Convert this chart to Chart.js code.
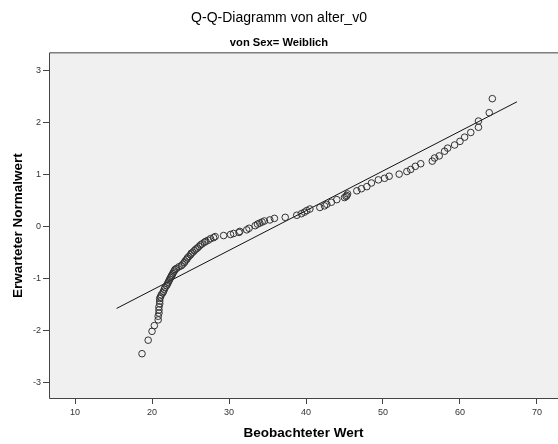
<!DOCTYPE html>
<html>
<head>
<meta charset="utf-8">
<script src="https://cdn.jsdelivr.net/npm/chart.js@4.4.1/dist/chart.umd.min.js"></script>
<style>
    body { margin: 0; background: #fff; }
    canvas { display: block; }
</style>
</head>
<body>
<canvas id="qqChart" width="558" height="444"></canvas>

<script>
// Beobachtete Werte (Alter) und erwartete Normalwerte, Frauen
const beobachtet = [
    18.7, 19.5, 20.0, 20.3, 20.8, 20.8, 20.9, 20.9, 20.9, 21.0,
    21.0, 21.0, 21.1, 21.2, 21.4, 21.5, 21.6, 21.7, 21.9, 22.0,
    22.1, 22.2, 22.3, 22.4, 22.5, 22.6, 22.7, 22.8, 22.9, 23.0,
    23.2, 23.5, 23.8, 24.0, 24.2, 24.3, 24.5, 24.6, 24.8, 25.0,
    25.1, 25.3, 25.5, 25.7, 25.9, 26.1, 26.3, 26.5, 26.8, 27.0,
    27.3, 27.6, 28.0, 28.2, 29.3, 30.2, 30.6, 31.3, 31.4, 32.3,
    32.6, 33.4, 33.7, 34.0, 34.3, 34.6, 35.3, 35.9, 37.3, 38.8,
    39.4, 39.8, 40.1, 40.5, 41.8, 42.4, 42.7, 43.3, 44.0, 45.0,
    45.2, 45.3, 45.4, 46.6, 47.2, 47.9, 48.5, 49.4, 50.2, 50.8,
    52.1, 53.1, 53.6, 54.2, 54.9, 56.4, 56.7, 57.3, 58.0, 58.4,
    59.3, 60.0, 60.6, 61.4, 62.4, 62.4, 63.8, 64.2
];
const erwartet = [
    -2.44, -2.18, -2.01, -1.90, -1.79, -1.72, -1.66, -1.60, -1.54, -1.48,
    -1.43, -1.38, -1.35, -1.31, -1.27, -1.24, -1.20, -1.17, -1.13, -1.10,
    -1.07, -1.04, -1.01, -0.98, -0.95, -0.93, -0.90, -0.87, -0.85, -0.82,
    -0.80, -0.77, -0.75, -0.72, -0.69, -0.66, -0.63, -0.60, -0.57, -0.54,
    -0.51, -0.49, -0.46, -0.43, -0.41, -0.38, -0.35, -0.33, -0.30, -0.28,
    -0.26, -0.23, -0.21, -0.19, -0.17, -0.15, -0.13, -0.11, -0.09, -0.06,
    -0.03, 0.02, 0.05, 0.07, 0.09, 0.11, 0.13, 0.16, 0.18, 0.22,
    0.25, 0.28, 0.31, 0.34, 0.37, 0.40, 0.43, 0.47, 0.52, 0.56,
    0.58, 0.60, 0.63, 0.69, 0.73, 0.77, 0.84, 0.90, 0.93, 0.97,
    1.01, 1.06, 1.10, 1.16, 1.21, 1.26, 1.32, 1.36, 1.45, 1.51,
    1.57, 1.64, 1.72, 1.81, 1.91, 2.03, 2.19, 2.46
];

// Referenzgerade (Endpunkte)
const geradeX = [15.4, 67.4];
const geradeY = [-1.57, 2.40];

const xTicks = [10, 20, 30, 40, 50, 60, 70];
const yTicks = [-3, -2, -1, 0, 1, 2, 3];

const FONT = '"Liberation Sans", Arial, sans-serif';

// Hintergrund und Rahmen (oben, links, unten) des Diagrammbereichs
const plotArea = {
    id: 'plotArea',
    beforeDatasetsDraw(chart) {
        const { ctx, chartArea: a } = chart;
        ctx.save();
        ctx.fillStyle = '#f0f0f0';
        ctx.fillRect(a.left, a.top, a.right - a.left, a.bottom - a.top);
        ctx.strokeStyle = '#444';
        ctx.lineWidth = 1;
        ctx.beginPath();
        ctx.moveTo(a.right, a.top + 0.5);
        ctx.lineTo(a.left + 0.5, a.top + 0.5);
        ctx.lineTo(a.left + 0.5, a.bottom - 0.5);
        ctx.lineTo(a.right, a.bottom - 0.5);
        ctx.stroke();
        ctx.restore();
    }
};

const ctx = document.getElementById('qqChart').getContext('2d');
new Chart(ctx, {
    type: 'scatter',
    data: {
        datasets: [{
            label: 'Beobachtet',
            data: beobachtet.map((x, i) => ({ x: x, y: erwartet[i] })),
            pointStyle: 'circle',
            pointRadius: 3.3,
            pointBorderWidth: 1,
            pointBorderColor: '#333',
            pointBackgroundColor: 'rgba(0,0,0,0)',
            order: 1
        }, {
            label: 'Gerade',
            data: geradeX.map((x, i) => ({ x: x, y: geradeY[i] })),
            showLine: true,
            borderColor: '#111',
            borderWidth: 1,
            pointRadius: 0,
            order: 2
        }]
    },
    options: {
        responsive: false,
        animation: false,
        layout: { padding: 0, autoPadding: false },
        plugins: {
            legend: { display: false },
            tooltip: { enabled: false },
            title: {
                display: true,
                text: 'Q-Q-Diagramm von alter_v0',
                color: '#000',
                font: { family: FONT, size: 14, weight: 'normal', lineHeight: 1.2 },
                padding: { top: 9.6, bottom: 5 }
            },
            subtitle: {
                display: true,
                text: 'von Sex= Weiblich',
                color: '#000',
                font: { family: FONT, size: 11.2, weight: 'bold', lineHeight: 1.2 },
                padding: { top: 4.9, bottom: 2.6 }
            }
        },
        scales: {
            x: {
                type: 'linear',
                min: 6.62,
                max: 72.73,
                afterBuildTicks: scale => { scale.ticks = xTicks.map(v => ({ value: v })); },
                afterFit: scale => { scale.height = 45; },
                border: { display: false },
                grid: { drawOnChartArea: false, drawTicks: true, tickLength: 5, color: '#444' },
                ticks: { color: '#333', padding: 3, font: { family: FONT, size: 9 } },
                title: {
                    display: true,
                    text: 'Beobachteter Wert',
                    color: '#000',
                    font: { family: FONT, size: 13.5, weight: 'bold', lineHeight: 1.2 },
                    padding: { top: 0, bottom: 2.9 }
                }
            },
            y: {
                type: 'linear',
                min: -3.31,
                max: 3.35,
                afterBuildTicks: scale => { scale.ticks = yTicks.map(v => ({ value: v })); },
                afterFit: scale => { scale.width = 49; },
                border: { display: false },
                grid: { drawOnChartArea: false, drawTicks: true, tickLength: 6, color: '#444' },
                ticks: { color: '#333', padding: 2, font: { family: FONT, size: 9 } },
                title: {
                    display: true,
                    text: 'Erwarteter Normalwert',
                    color: '#000',
                    font: { family: FONT, size: 13.5, weight: 'bold', lineHeight: 1.2 },
                    padding: { top: 9.9, bottom: 0 }
                }
            }
        }
    },
    plugins: [plotArea]
});
</script>
</body>
</html>
